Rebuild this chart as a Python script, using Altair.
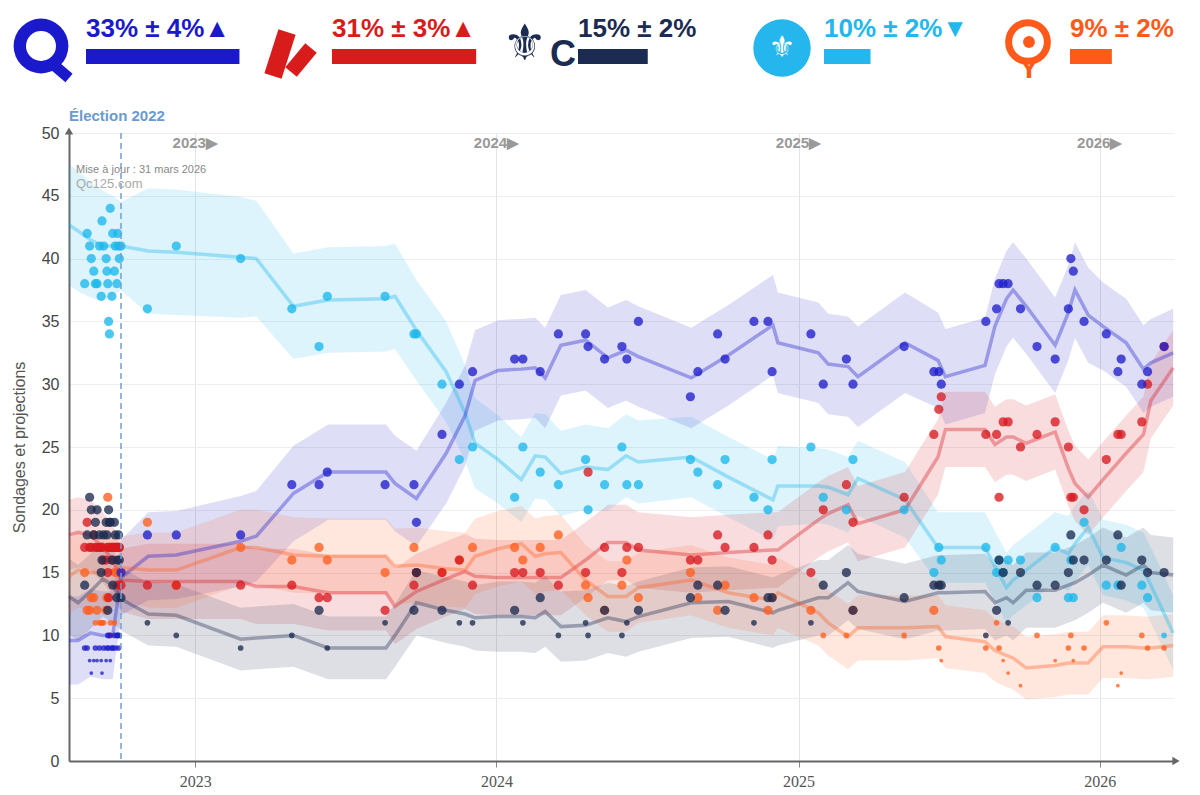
import altair as alt
import pandas as pd

# ---------------- data ----------------
PARTIES = ["CAQ", "PQ", "PLQ", "PCQ", "QS"]
PARTY_COLORS = ["#1ab7ea", "#1f1fcc", "#d71920", "#1c2a50", "#ff5f1f"]

trend_dates = ["2022-08-01", "2022-08-12", "2022-08-27", "2022-09-11", "2022-09-23", "2022-10-03",
               "2022-11-05", "2022-12-09", "2023-02-25", "2023-03-16", "2023-04-30", "2023-06-11",
               "2023-08-20", "2023-08-31", "2023-09-26", "2023-11-01", "2023-11-24", "2023-12-06",
               "2024-01-03", "2024-01-31", "2024-02-17", "2024-02-29", "2024-03-19", "2024-04-18",
               "2024-05-15", "2024-06-06", "2024-06-21", "2024-08-24", "2024-10-08", "2024-12-01",
               "2024-12-07", "2025-01-25", "2025-02-06", "2025-03-02", "2025-03-14", "2025-05-10",
               "2025-06-19", "2025-06-28", "2025-08-15", "2025-08-27", "2025-09-10", "2025-09-18",
               "2025-10-04", "2025-11-08", "2025-11-24", "2025-12-02", "2025-12-18", "2026-01-05",
               "2026-02-02", "2026-02-23", "2026-03-04", "2026-03-31"]

caq_trend = [42.7, 42.2, 41.5, 41.0, 41.0, 41.0, 40.6, 40.5, 40.1, 40.0, 36.2, 36.7, 36.8, 37.0, 34.3,
             31.0, 27.7, 25.3, 24.0, 22.4, 24.3, 24.2, 22.9, 23.4, 23.2, 24.3, 23.8, 24.2, 22.6, 20.8,
             21.9, 21.9, 21.8, 21.2, 22.5, 20.8, 17.0, 17.0, 17.0, 15.5, 13.8, 14.4, 15.2, 17.0, 16.5,
             17.3, 18.6, 16.2, 15.8, 15.2, 14.0, 10.2]
pq_trend = [9.6, 9.6, 10.2, 10.0, 10.0, 14.6, 16.3, 16.4, 17.5, 17.9, 21.3, 23.0, 23.0, 22.1, 20.9,
            24.5, 27.5, 30.3, 31.1, 31.2, 31.3, 30.5, 33.1, 33.5, 32.1, 32.7, 32.2, 30.5, 32.3, 34.7,
            33.3, 32.5, 31.6, 31.4, 30.6, 33.3, 31.9, 30.6, 31.5, 34.6, 36.8, 37.5, 36.2, 33.1, 35.7,
            37.5, 35.5, 34.6, 33.3, 31.2, 31.7, 32.5]
plq_trend = [18.0, 18.2, 18.0, 17.0, 16.0, 14.4, 14.3, 14.3, 14.3, 13.9, 13.9, 13.4, 13.4, 12.3, 13.5,
             14.5, 15.1, 14.7, 14.6, 14.6, 14.6, 14.6, 14.6, 16.0, 17.4, 17.4, 16.8, 16.4, 16.6, 16.8,
             16.8, 19.2, 19.7, 20.4, 18.9, 20.0, 24.2, 26.4, 26.4, 25.2, 25.8, 25.8, 25.3, 26.2, 23.3,
             22.1, 21.0, 22.4, 24.5, 26.0, 28.7, 31.3]
pcq_trend = [13.1, 12.6, 13.5, 14.5, 14.0, 12.9, 11.7, 11.6, 9.7, 9.8, 10.0, 9.0, 9.0, 10.0, 12.6,
             12.0, 11.7, 11.4, 11.5, 11.5, 11.4, 11.9, 10.7, 10.8, 11.4, 11.1, 11.5, 12.6, 12.7, 11.8,
             12.0, 13.0, 13.0, 14.2, 13.5, 12.7, 13.4, 13.4, 13.5, 12.6, 13.0, 12.6, 13.6, 13.6, 14.0,
             14.2, 14.8, 15.6, 14.8, 15.6, 15.0, 14.8]
qs_trend = [14.7, 15.2, 15.0, 15.0, 15.2, 15.4, 15.2, 15.2, 17.0, 17.0, 16.4, 16.3, 16.3, 15.5, 15.6,
            15.3, 15.2, 16.3, 16.9, 17.3, 16.3, 16.5, 16.6, 14.4, 13.1, 13.1, 13.8, 14.4, 13.4, 12.8,
            13.4, 11.8, 11.0, 9.9, 10.6, 10.6, 10.7, 9.9, 9.5, 8.8, 8.4, 8.2, 7.4, 7.6, 7.8,
            7.8, 7.8, 9.1, 9.1, 9.0, 9.0, 9.2]

caq_margin = [4.8, 4.8, 4.6, 4.4, 4.0, 3.5, 5.0, 5.0, 4.8, 4.6, 4.2, 4.2, 4.2, 4.2, 4.0,
              4.0, 3.8, 3.6, 3.5, 3.4, 3.4, 3.4, 3.4, 3.4, 3.3, 3.3, 3.3, 3.2, 3.2, 3.2,
              3.2, 3.0, 3.0, 3.0, 3.0, 3.0, 2.8, 2.8, 2.8, 2.8, 2.8, 2.8, 2.8, 2.8, 3.0,
              3.0, 3.0, 3.0, 3.0, 3.0, 3.0, 3.0]
pq_margin = [3.5, 3.5, 3.5, 3.5, 3.5, 3.0, 3.5, 3.5, 3.6, 3.6, 3.8, 3.8, 3.8, 3.8, 3.8,
             4.0, 4.0, 4.0, 4.0, 4.0, 4.0, 4.0, 4.0, 4.0, 4.0, 4.0, 4.0, 4.0, 4.0, 4.0,
             4.0, 4.0, 4.0, 4.0, 4.0, 4.0, 3.8, 3.8, 3.8, 3.8, 3.8, 3.8, 3.8, 3.8, 3.8,
             3.8, 3.8, 3.5, 3.5, 3.5, 3.5, 3.5]
plq_margin = [2.8, 2.8, 2.8, 2.8, 2.8, 2.5, 3.0, 3.0, 3.0, 3.0, 3.0, 3.0, 3.0, 3.0, 3.0,
              3.0, 3.0, 3.0, 3.0, 3.0, 3.0, 3.0, 3.0, 3.0, 3.0, 3.0, 3.0, 3.0, 3.0, 3.0,
              3.0, 3.0, 3.0, 3.0, 3.0, 3.0, 3.0, 3.0, 3.0, 3.0, 3.0, 3.0, 3.0, 3.0, 3.0,
              3.0, 3.0, 3.0, 3.0, 3.0, 3.0, 3.0]
pcq_margin = [3.0, 3.0, 3.0, 3.0, 3.0, 2.5, 2.5, 2.5, 2.5, 2.5, 2.5, 2.5, 2.5, 2.5, 2.6,
              2.6, 2.6, 2.6, 2.8, 2.8, 2.8, 2.8, 2.8, 2.8, 2.8, 2.8, 2.8, 2.8, 2.8, 2.8,
              2.8, 3.0, 3.0, 3.0, 3.0, 3.0, 3.0, 3.0, 3.0, 3.0, 3.0, 3.0, 3.0, 3.0, 3.0,
              3.0, 3.0, 3.0, 3.0, 3.0, 3.0, 3.0]
qs_margin = [3.0, 3.0, 3.0, 3.0, 3.0, 2.5, 3.0, 3.0, 3.0, 3.0, 3.0, 3.0, 3.0, 3.0, 3.0,
             3.0, 3.0, 3.0, 3.0, 3.0, 3.0, 3.0, 3.0, 2.8, 2.8, 2.8, 2.8, 2.8, 2.8, 2.8,
             2.8, 2.6, 2.6, 2.6, 2.6, 2.6, 2.5, 2.5, 2.5, 2.5, 2.5, 2.5, 2.5, 2.5, 2.5,
             2.5, 2.5, 2.5, 2.5, 2.5, 2.5, 2.5]

poll_dates = ["2022-08-20", "2022-08-23", "2022-08-26", "2022-08-28", "2022-08-31", "2022-09-02",
              "2022-09-04", "2022-09-07", "2022-09-09", "2022-09-10", "2022-09-12", "2022-09-15",
              "2022-09-16", "2022-09-17", "2022-09-18", "2022-09-19", "2022-09-20", "2022-09-22",
              "2022-09-23", "2022-09-25", "2022-09-26", "2022-09-28", "2022-09-29", "2022-09-30",
              "2022-10-01", "2022-10-03",
              "2022-11-04", "2022-12-09", "2023-02-25", "2023-04-28", "2023-05-31", "2023-06-10",
              "2023-08-19", "2023-09-23", "2023-09-26", "2023-10-27", "2023-11-17", "2023-12-03",
              "2024-01-23", "2024-02-02", "2024-02-23", "2024-03-16", "2024-04-18", "2024-04-21",
              "2024-05-11", "2024-06-01", "2024-06-07", "2024-06-21", "2024-08-23", "2024-09-01",
              "2024-09-25", "2024-10-04", "2024-11-08", "2024-11-25", "2024-11-30", "2025-01-16",
              "2025-01-31", "2025-02-28", "2025-03-08", "2025-05-09", "2025-06-14", "2025-06-20",
              "2025-06-23", "2025-08-16", "2025-08-29", "2025-09-01", "2025-09-06", "2025-09-12",
              "2025-09-27", "2025-10-17", "2025-11-08", "2025-11-24", "2025-11-27", "2025-11-30",
              "2025-12-13", "2026-01-09", "2026-01-23", "2026-01-27", "2026-02-21", "2026-02-28",
              "2026-03-20"]
caq_polls = [38, 42, 41, 40, 39, 38, 38, 41, 37, 43, 41, 40, 39, 38, 35, 34, 44, 37, 42, 39, 41, 38, 42, 41, 40, 41,
             36, 41, 40, 36, 33, 37, 37, 34, 34, 30, 24, 25, 21, 25, 23, 22, 24, 20, 22, 25, 22, 22, 24, 23,
             22, 24, 21, 20, 24, 25, 21, 20, 24, 20, 15, 17, 16, 17, 15, 16, 15, 16, 16, 13, 17, 13, 16, 13,
             19, 14, 14, 17, 14, 13, 10]
pq_polls = [9, 9, 8, 7, 8, 9, 8, 9, 8, 7, 9, 8, 9, 10, 9, 10, 8, 9, 9, 10, 9, 10, 10, 9, 10, 15,
            18, 18, 18, 22, 22, 23, 22, 22, 19, 26, 30, 31, 32, 32, 31, 34, 34, 33, 32, 33, 32, 35, 29, 31,
            34, 32, 35, 35, 31, 34, 30, 32, 30, 33, 31, 31, 30, 35, 36, 38, 38, 38, 36, 33, 32, 36, 40, 39,
            35, 34, 31, 32, 30, 31, 33]
plq_polls = [17, 19, 17, 17, 18, 17, 17, 17, 17, 17, 16, 16, 17, 15, 13, 17, 10, 17, 16, 17, 17, 17, 14, 17, 17, 14,
             14, 14, 14, 14, 13, 13, 12, 14, 15, 15, 16, 14, 15, 15, 15, 14, 15, 23, 17, 15, 17, 17, 16, 16,
             18, 17, 17, 18, 16, 15, 20, 22, 19, 21, 26, 28, 29, 26, 26, 21, 27, 27, 25, 26, 27, 25, 21, 21,
             20, 24, 26, 26, 27, 30, 33]
pcq_polls = [14, 18, 21, 20, 18, 19, 20, 18, 15, 16, 18, 19, 18, 12, 20, 19, 19, 16, 14, 19, 18, 13, 16, 18, 16, 13,
             11, 10, 9, 10, 12, 9, 11, 12, 15, 12, 11, 11, 12, 11, 13, 10, 11, 10, 12, 10, 11, 12, 13, 14,
             14, 12, 11, 13, 13, 11, 14, 15, 12, 13, 14, 14, 14, 10, 12, 16, 15, 11, 15, 14, 14, 15, 18, 16,
             16, 16, 18, 14, 16, 15, 15]
qs_polls = [15, 12, 12, 13, 13, 11, 12, 11, 11, 11, 11, 12, 13, 21, 17, 17, 11, 17, 17, 11, 15, 17, 15, 14, 17, 15,
            19, 14, 17, 16, 17, 16, 15, 17, 15, 15, 16, 17, 17, 16, 17, 18, 14, 13, 12, 14, 16, 13, 15, 13,
            12, 14, 13, 12, 13, 12, 10, 10, 12, 10, 12, 9, 8, 9, 11, 9, 8, 7, 6, 10, 8, 9, 10, 8,
            9, 11, 6, 7, 10, 9, 9]

head_parties = ["PQ", "PLQ", "PCQ", "CAQ", "QS"]
head_pct = [33, 31, 15, 10, 9]
head_moe = [4, 3, 2, 2, 2]
head_arrow = ["▲", "▲", "", "▼", ""]
head_colors = ["#1a1acc", "#d81c1c", "#1b2b52", "#25b6ee", "#ff5a1a"]

year_starts = ["2023-01-01", "2024-01-01", "2025-01-01", "2026-01-01"]
year_tags = ["2023▶", "2024▶", "2025▶", "2026▶"]

# ---------------- tables ----------------
trend_values = {"CAQ": caq_trend, "PQ": pq_trend, "PLQ": plq_trend, "PCQ": pcq_trend, "QS": qs_trend}
trend_margins = {"CAQ": caq_margin, "PQ": pq_margin, "PLQ": plq_margin, "PCQ": pcq_margin, "QS": qs_margin}
poll_values = {"CAQ": caq_polls, "PQ": pq_polls, "PLQ": plq_polls, "PCQ": pcq_polls, "QS": qs_polls}

rows = []
for p in PARTIES:
    for d, v, m in zip(trend_dates, trend_values[p], trend_margins[p]):
        rows.append({"date": d, "party": p, "value": v, "lo": v - m, "hi": v + m})
trend_df = pd.DataFrame(rows)

prow = []
for p in ["CAQ", "QS", "PLQ", "PQ", "PCQ"]:
    for d, v in zip(poll_dates, poll_values[p]):
        prow.append({"date": d, "party": p, "value": v})
poll_df = pd.DataFrame(prow)

years_df = pd.DataFrame({"date": year_starts, "tag": year_tags})

# ---------------- main chart ----------------
W, H = 1105, 628
FONT = "Liberation Sans"
NARROW = "Liberation Sans Narrow"

xscale = alt.Scale(type="utc", domain=[alt.DateTime(year=2022, month=8, date=1, utc=True),
                                       alt.DateTime(year=2026, month=4, date=1, utc=True)])
yscale = alt.Scale(domain=[0, 50], nice=False, zero=True)
color = alt.Color("party:N", scale=alt.Scale(domain=PARTIES, range=PARTY_COLORS), legend=None)

x_axis = alt.Axis(values=[alt.DateTime(year=y, month=1, date=1, utc=True) for y in (2023, 2024, 2025, 2026)],
                  format="%Y", grid=True, gridColor="#e4e4e4", gridWidth=1,
                  domainColor="#666666", domainWidth=2, tickColor="#888888", tickSize=6,
                  labelFont=NARROW, labelFontSize=16, labelColor="#555555", labelPadding=6)
y_axis = alt.Axis(values=list(range(0, 51, 5)), grid=True, gridColor="#eeeeee", ticks=False,
                  domainColor="#666666", domainWidth=2, labelFont=FONT, labelFontSize=16,
                  labelColor="#444444", labelPadding=10, title="Sondages et projections",
                  titleFont=FONT, titleFontSize=16, titleFontWeight="normal",
                  titleColor="#555555", titlePadding=14)

x_enc = alt.X("date:T", scale=xscale, title=None, axis=x_axis)
y_enc = alt.Y("value:Q", scale=yscale, axis=y_axis)

bands = alt.Chart(trend_df).mark_area(opacity=0.15).encode(
    x=x_enc, y=alt.Y("lo:Q", scale=yscale, axis=y_axis), y2="hi:Q", color=color)
lines = alt.Chart(trend_df).mark_line(strokeWidth=3.5, opacity=0.36).encode(x=x_enc, y=y_enc, color=color)
points = alt.Chart(poll_df).mark_circle(opacity=0.78).encode(
    x=x_enc, y=y_enc, color=color,
    size=alt.Size("value:Q", scale=alt.Scale(type="threshold", domain=[8.5, 11.5], range=[14, 32, 85]),
                  legend=None))

election = alt.Chart(pd.DataFrame({"date": ["2022-10-03"]})).mark_rule(
    color="#6f9fd8", strokeDash=[6, 4], strokeWidth=1.5).encode(x=x_enc)

one = pd.DataFrame({"k": [0]})
elec_label = alt.Chart(one).mark_text(
    text="Élection 2022", align="left", baseline="middle", font=FONT, fontSize=15,
    fontWeight="bold", color="#6a9ad0").encode(x=alt.value(0), y=alt.value(-17))
year_labels = alt.Chart(years_df).mark_text(
    align="center", baseline="middle", font=FONT, fontSize=15, fontWeight="bold", color="#999999"
).encode(x=x_enc, y=alt.value(10), text="tag:N")
update_txt = alt.Chart(one).mark_text(
    text="Mise à jour : 31 mars 2026", align="left", baseline="middle", font=FONT, fontSize=11,
    color="#888888").encode(x=alt.value(7), y=alt.value(37))
site_txt = alt.Chart(one).mark_text(
    text="Qc125.com", align="left", baseline="middle", font=FONT, fontSize=13,
    color="#aaaaaa").encode(x=alt.value(7), y=alt.value(51))
arrow_up = alt.Chart(one).mark_point(shape="triangle-up", filled=True, size=70, color="#666666",
                                     opacity=1).encode(x=alt.value(0), y=alt.value(-2))
arrow_right = alt.Chart(one).mark_point(shape="triangle-right", filled=True, size=70, color="#666666",
                                        opacity=1).encode(x=alt.value(W + 2), y=alt.value(H))

main = alt.layer(bands, lines, points, election, elec_label, year_labels, update_txt, site_txt,
                 arrow_up, arrow_right).properties(width=W, height=H)

# ---------------- header ----------------
LOGO_X = -25   # logo centre relative to panel origin
TEXT_X = 17    # text / bar start relative to panel origin
PX_PER_PCT = 4.65
PANEL_WIDTHS = [172, 172, 172, 172, 118]


def stroke_seg(src, col, x1, y1, x2, y2, w):
    return src.mark_rule(color=col, strokeWidth=w, strokeCap="butt").encode(
        x=alt.value(x1), y=alt.value(y1), x2=alt.value(x2), y2=alt.value(y2))


def logo_layers(p, col):
    src = alt.Chart(one)
    anchor = src.mark_point(opacity=0, size=4).encode(x=alt.value(-60), y=alt.value(40))
    if p == "PQ":
        return [anchor,
                src.mark_point(shape="circle", filled=True, size=3000, color=col, opacity=1).encode(
                    x=alt.value(LOGO_X - 3), y=alt.value(32)),
                src.mark_point(shape="circle", filled=True, size=900, color="white", opacity=1).encode(
                    x=alt.value(LOGO_X - 3), y=alt.value(32)),
                stroke_seg(src, col, LOGO_X + 11, 52, LOGO_X + 25, 64, 11)]
    if p == "PLQ":
        return [anchor,
                stroke_seg(src, col, LOGO_X - 17, 62, LOGO_X - 3, 18, 18),
                stroke_seg(src, col, LOGO_X + 1, 58, LOGO_X + 21, 34, 15)]
    if p == "PCQ":
        return [anchor,
                src.mark_text(text="⚜", font="DejaVu Sans", fontSize=50, color=col, align="center",
                              baseline="top").encode(x=alt.value(LOGO_X - 11), y=alt.value(6)),
                src.mark_text(text="C", font=FONT, fontSize=36, fontWeight="bold", color=col, align="center",
                              baseline="top").encode(x=alt.value(LOGO_X + 27), y=alt.value(24))]
    if p == "CAQ":
        return [anchor,
                src.mark_point(shape="circle", filled=True, size=3300, color=col, opacity=1).encode(
                    x=alt.value(LOGO_X), y=alt.value(34)),
                src.mark_text(text="⚜", font="DejaVu Sans", fontSize=30, color="white", align="center",
                              baseline="middle").encode(x=alt.value(LOGO_X), y=alt.value(34))]
    return [anchor,
            src.mark_point(shape="circle", filled=False, size=1500, strokeWidth=7, color=col,
                           opacity=1).encode(x=alt.value(LOGO_X), y=alt.value(28)),
            src.mark_circle(size=140, color=col, opacity=1).encode(x=alt.value(LOGO_X + 1), y=alt.value(28)),
            src.mark_text(text="Y", font=FONT, fontSize=30, fontWeight="bold", color=col, align="center",
                          baseline="top").encode(x=alt.value(LOGO_X + 1), y=alt.value(40))]


def head_panel(i):
    p, col, pw = head_parties[i], head_colors[i], PANEL_WIDTHS[i]
    df = pd.DataFrame({"party": [p], "pct": [head_pct[i]],
                       "label": [f"{head_pct[i]}% ± {head_moe[i]}%{head_arrow[i]}"]})
    base = alt.Chart(df)
    hscale = alt.Scale(domain=[-TEXT_X / PX_PER_PCT, (pw - TEXT_X) / PX_PER_PCT], nice=False, zero=False)
    bar = base.mark_bar(color=col).encode(
        x=alt.X("pct:Q", scale=hscale, axis=None), x2=alt.datum(0),
        y=alt.value(35), y2=alt.value(50))
    txt = base.mark_text(align="left", baseline="alphabetic", font=FONT, fontSize=26, fontWeight="bold",
                         color=col).encode(x=alt.value(TEXT_X), y=alt.value(23), text="label:N")
    return alt.layer(*logo_layers(p, col), bar, txt).properties(width=pw, height=70)


header = alt.hconcat(*[head_panel(i) for i in range(5)], spacing=13)

chart = alt.vconcat(header, main, spacing=24).properties(
    padding={"left": 0, "top": 0, "right": 2, "bottom": 2}
).configure_view(stroke=None)

chart.save("out.html", embed_options={"renderer": "svg", "actions": False})
